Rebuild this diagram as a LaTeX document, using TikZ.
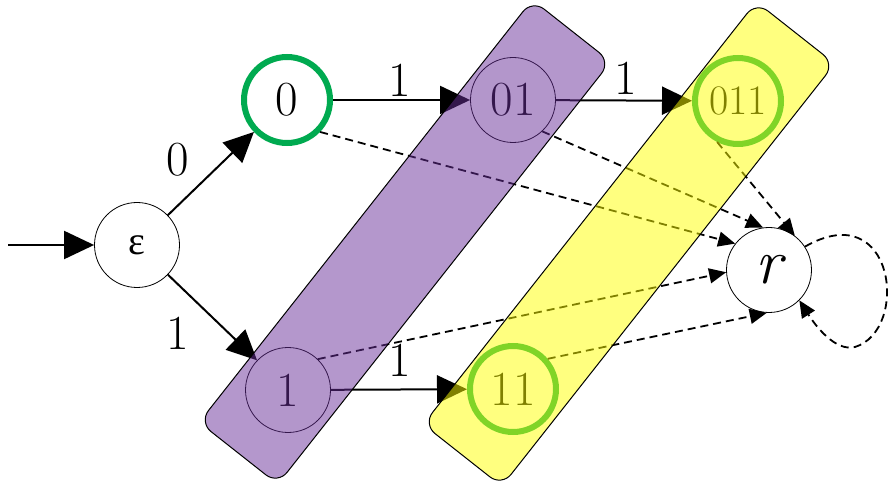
\documentclass[tikz,border=0pt]{standalone}
\usepackage{fontspec}
\newfontfamily\grk{Liberation Serif}
\usetikzlibrary{arrows.meta}
\definecolor{acc}{RGB}{0,170,80}
\definecolor{boxp}{RGB}{105,47,153}
\definecolor{boxy}{RGB}{255,255,0}
\begin{document}
\begin{tikzpicture}[x=1pt,y=-1pt,
 every node/.style={inner sep=0pt},
 state/.style={circle,draw,fill=white,line width=0.8pt,minimum size=85pt,font=\fontsize{49}{49}\selectfont},
 accept/.style={draw=acc,line width=6pt,minimum size=86pt},
 lab/.style={font=\fontsize{49}{49}\selectfont},
 edge/.style={line width=2pt,-{Triangle[length=30pt,width=28pt]}},
 dedge/.style={line width=1.8pt,dash pattern=on 8pt off 5pt,-{Triangle[length=17pt,width=15pt]}},
 grp/.style={draw,line width=1pt,rounded corners=15pt,minimum width=538pt,minimum height=100pt,rotate=51.75,fill opacity=0.5}]
\useasboundingbox (0,0) rectangle (889,486);
% states
\node[state] (eps) at (137,245) {\fontsize{40}{40}\selectfont\grk ε};
\node[state,accept] (n0) at (287,100) {0};
\node[state] (n01) at (513,100) {01};
\node[state,accept,font=\fontsize{42}{42}\selectfont] (n011) at (738,101) {011};
\node[state] (n1) at (288,390) {1};
\node[state,accept] (n11) at (513,389) {11};
\node[state,font=\fontsize{64}{64}\selectfont\itshape] (r) at (769,270) {r};
\coordinate (s) at (8,245);
% solid edges
\draw[edge] (s) -- (eps);
\draw[edge] (eps) -- (n0);
\draw[edge] (eps) -- (n1);
\draw[edge] (n0) -- (n01);
\draw[edge] (n01) -- (n011);
\draw[edge] (n1) -- (n11);
% labels
\node[lab] (l0) at (178,160) {0};
\node[lab] (l1) at (178,333) {1};
\node[lab] (l2) at (400,80) {1};
\node[lab] (l3) at (626,78) {1};
\node[lab] (l4) at (400,360) {1};
% dashed edges
\draw[dedge] (n0.-44) -- (r.142);
\draw[dedge] (n01.-47) -- (r.98);
\draw[dedge] (n011.-117) -- (r.53);
\draw[dedge] (n1.46) -- (r.183);
\draw[dedge] (n11.41) -- (r.267);
\draw[dedge] (r.33) .. controls (895,195) and (910,330) .. (855,347) .. controls (835,352) and (815,325) .. (r.-45);
% groups
\node[grp,fill=boxp] (gp) at (405,242) {};
\node[grp,fill=boxy] (gy) at (629,244) {};
\end{tikzpicture}
\end{document}
